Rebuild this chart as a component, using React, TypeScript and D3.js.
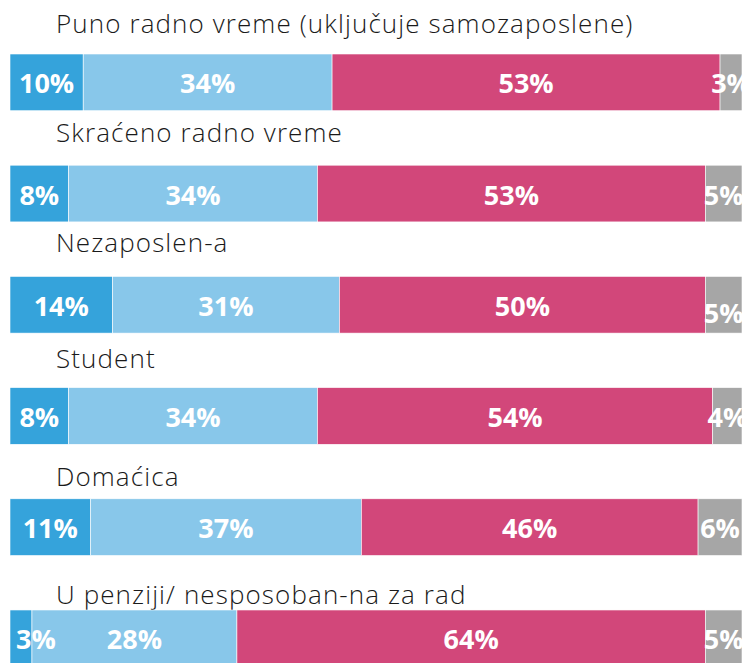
import React from "react";
import * as d3 from "d3";

const categories = [
  "Puno radno vreme (uključuje samozaposlene)",
  "Skraćeno radno vreme",
  "Nezaposlen-a",
  "Student",
  "Domaćica",
  "U penziji/ nesposoban-na za rad",
];
const seriesNames = ["s1", "s2", "s3", "s4"];
const s1 = [10, 8, 14, 8, 11, 3];
const s2 = [34, 34, 31, 34, 37, 28];
const s3 = [53, 53, 50, 54, 46, 64];
const s4 = [3, 5, 5, 4, 6, 5];
const seriesValues = [s1, s2, s3, s4];

// layout
const W = 742;
const H = 663;
const colors = ["#35A3DB", "#88C7EA", "#D2477A", "#A6A6A6"];
const titleOffsets = [-21, -23, -24.5, -20, -13, -6];
// special label nudges [category index, series index, dx, dy]
const labelNudges: [number, number, number, number][] = [
  [2, 3, 0, 7],
  [5, 0, 15, 0],
];

export default function App() {
  const x = d3.scaleLinear().domain([0, 100]).range([10, 742]);
  const y = d3
    .scaleBand<string>()
    .domain(categories)
    .range([54, 666.7])
    .paddingInner(0.49)
    .paddingOuter(0);

  const rows = categories.map((c, i) => {
    const vals = seriesValues.map((s) => s[i]);
    const stack: { x0: number; x1: number; v: number; j: number }[] = [];
    let acc = 0;
    vals.forEach((v, j) => {
      stack.push({ x0: acc, x1: acc + v, v, j });
      acc += v;
    });
    return { c, i, stack };
  });

  return (
    <svg
      width={W}
      height={H}
      style={{ position: "absolute", left: 0, top: 0, display: "block" }}
    >
      {rows.map(({ c, i, stack }) => {
        const top = y(c)!;
        const bw = y.bandwidth();
        return (
          <g key={c}>
            <text
              x={56}
              y={top + titleOffsets[i]}
              fontFamily="'Open Sans', sans-serif"
              fontWeight={300}
              fontSize={26}
              letterSpacing={1.1}
              fill="#1a1a1a"
            >
              {c}
            </text>
            {stack.map((d) => (
              <rect
                key={seriesNames[d.j]}
                x={x(d.x0)}
                y={top}
                width={x(d.x1) - x(d.x0)}
                height={bw}
                fill={colors[d.j]}
                stroke="#ffffff"
                strokeWidth={0.6}
              />
            ))}
            {stack.map((d) => {
              const n = labelNudges.find((k) => k[0] === i && k[1] === d.j);
              const dx = n ? n[2] : 0;
              const dy = n ? n[3] : 0;
              return (
                <text
                  key={"t" + seriesNames[d.j]}
                  x={(x(d.x0) + x(d.x1)) / 2 + dx}
                  y={top + bw / 2 + 11 + dy}
                  textAnchor="middle"
                  fontFamily="'Open Sans', sans-serif"
                  fontWeight={700}
                  fontSize={27}
                  fill="#ffffff"
                >
                  {d.v + "%"}
                </text>
              );
            })}
          </g>
        );
      })}
    </svg>
  );
}
